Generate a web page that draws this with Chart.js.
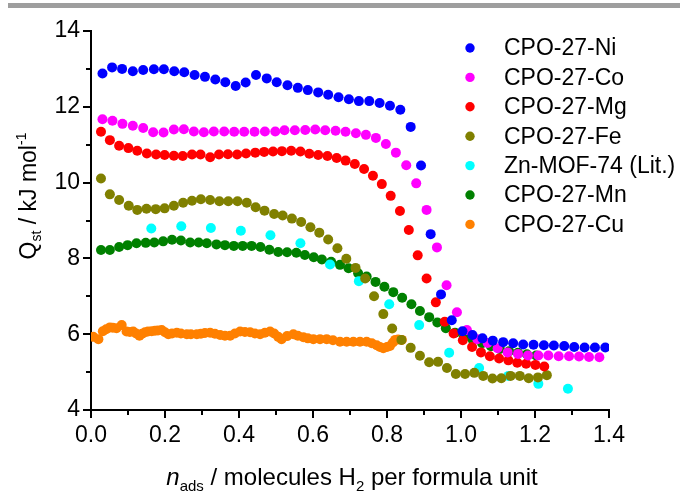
<!DOCTYPE html>
<html>
<head>
<meta charset="utf-8">
<script src="https://cdn.jsdelivr.net/npm/chart.js@4.4.1/dist/chart.umd.min.js"></script>
<style>
  body { margin: 0; background: #fff; }
  canvas { display: block; }
</style>
</head>
<body>
<canvas id="myChart" width="680" height="491"></canvas>
<script>
// series names and colours, in legend order
const seriesNames = ["CPO-27-Ni", "CPO-27-Co", "CPO-27-Mg", "CPO-27-Fe", "Zn-MOF-74 (Lit.)", "CPO-27-Mn", "CPO-27-Cu"]
const seriesColors = ["#0000ff", "#ff00ff", "#ff0000", "#808000", "#00ffff", "#008000", "#ff8000"]

// values (x = n_ads, y = Qst)
const niX = [0.031,0.057,0.084,0.113,0.141,0.170,0.197,0.225,0.252,0.280,0.308,0.336,0.363,0.391,0.418,0.446,0.475,0.502,0.531,0.559,0.586,0.614,0.641,0.669,0.697,0.724,0.752,0.780,0.808,0.836,0.864,0.892,0.918,0.946,0.975,1.004,1.031,1.058,1.086,1.114,1.141,1.168,1.196,1.224,1.251,1.279,1.306,1.334,1.362,1.390]
const niY = [12.88,13.04,13.00,12.94,12.97,12.99,12.99,12.94,12.91,12.84,12.79,12.72,12.65,12.55,12.64,12.84,12.75,12.65,12.57,12.50,12.44,12.38,12.32,12.25,12.20,12.15,12.15,12.10,12.03,11.92,11.47,10.45,8.64,7.05,6.37,6.08,5.98,5.89,5.83,5.79,5.76,5.73,5.72,5.71,5.70,5.69,5.66,5.65,5.65,5.65]

const coX = [0.031,0.058,0.085,0.113,0.141,0.168,0.196,0.224,0.251,0.278,0.305,0.332,0.360,0.387,0.414,0.442,0.470,0.498,0.523,0.551,0.579,0.606,0.633,0.661,0.688,0.716,0.743,0.770,0.797,0.824,0.852,0.879,0.907,0.935,0.961,0.989,1.016,1.044,1.072,1.099,1.126,1.154,1.181,1.209,1.236,1.264,1.292,1.319,1.346,1.374]
const coY = [11.67,11.63,11.55,11.50,11.44,11.33,11.32,11.40,11.41,11.35,11.33,11.35,11.35,11.34,11.34,11.34,11.35,11.35,11.38,11.38,11.39,11.40,11.38,11.37,11.34,11.30,11.26,11.18,11.02,10.79,10.46,9.98,9.28,8.29,7.29,6.58,6.11,5.87,5.77,5.63,5.52,5.48,5.44,5.44,5.44,5.42,5.42,5.41,5.40,5.39]

const mgX = [0.027,0.051,0.076,0.101,0.125,0.151,0.176,0.199,0.224,0.248,0.273,0.296,0.322,0.346,0.370,0.395,0.419,0.444,0.468,0.492,0.516,0.541,0.566,0.590,0.614,0.639,0.664,0.688,0.713,0.738,0.762,0.786,0.810,0.835,0.859,0.883,0.907,0.932,0.956,0.980,1.005,1.030,1.054,1.078,1.103,1.128,1.152,1.176,1.201,1.225]
const mgY = [11.34,11.12,10.97,10.91,10.84,10.77,10.74,10.73,10.71,10.70,10.74,10.74,10.67,10.74,10.75,10.74,10.77,10.79,10.81,10.82,10.83,10.84,10.82,10.76,10.73,10.70,10.65,10.58,10.49,10.36,10.18,9.96,9.65,9.25,8.75,8.08,7.47,6.84,6.33,6.02,5.84,5.66,5.52,5.42,5.36,5.31,5.25,5.22,5.19,5.15]

const feX = [0.027,0.051,0.076,0.102,0.125,0.150,0.175,0.199,0.224,0.249,0.273,0.297,0.322,0.347,0.371,0.396,0.421,0.445,0.469,0.495,0.518,0.543,0.568,0.593,0.617,0.641,0.666,0.690,0.715,0.741,0.765,0.790,0.814,0.839,0.864,0.889,0.914,0.938,0.962,0.986,1.011,1.036,1.060,1.085,1.109,1.134,1.159,1.183,1.208,1.232]
const feY = [10.11,9.69,9.54,9.39,9.28,9.31,9.30,9.32,9.39,9.47,9.52,9.56,9.54,9.51,9.51,9.51,9.47,9.35,9.26,9.17,9.13,9.05,8.96,8.82,8.68,8.50,8.27,7.99,7.75,7.47,7.00,6.53,6.15,5.85,5.64,5.43,5.26,5.27,5.11,4.95,4.95,4.98,4.90,4.83,4.84,4.90,4.90,4.84,4.86,4.92]

const znX = [0.163,0.244,0.324,0.405,0.485,0.566,0.646,0.724,0.806,0.887,0.968,1.049,1.128,1.209,1.289]
const znY = [8.79,8.85,8.80,8.73,8.61,8.40,7.84,7.40,6.79,6.24,5.51,5.11,4.90,4.69,4.56]

const mnX = [0.027,0.051,0.076,0.099,0.123,0.148,0.171,0.195,0.219,0.243,0.268,0.291,0.313,0.339,0.362,0.386,0.410,0.434,0.458,0.482,0.506,0.530,0.555,0.578,0.602,0.624,0.649,0.673,0.696,0.722,0.745,0.769,0.793,0.817,0.841,0.866,0.889,0.914,0.936,0.959,0.984,1.008,1.032,1.057,1.081,1.105,1.130,1.154,1.178,1.203]
const mnY = [8.22,8.22,8.30,8.35,8.40,8.41,8.42,8.45,8.49,8.47,8.42,8.42,8.40,8.37,8.35,8.33,8.33,8.33,8.30,8.23,8.17,8.16,8.15,8.09,8.03,7.97,7.91,7.83,7.74,7.61,7.52,7.38,7.25,7.11,6.96,6.79,6.61,6.45,6.31,6.16,6.04,5.93,5.85,5.76,5.68,5.61,5.55,5.51,5.47,5.44]

const cuX = [0.006,0.020,0.032,0.041,0.051,0.059,0.069,0.083,0.096,0.105,0.114,0.122,0.131,0.138,0.146,0.154,0.164,0.173,0.181,0.191,0.200,0.209,0.219,0.232,0.243,0.259,0.270,0.286,0.297,0.308,0.322,0.335,0.349,0.362,0.376,0.389,0.403,0.416,0.430,0.443,0.457,0.470,0.484,0.495,0.506,0.515,0.530,0.547,0.559,0.574,0.586,0.601,0.619,0.637,0.654,0.673,0.691,0.709,0.727,0.745,0.759,0.772,0.781,0.790,0.800,0.808,0.816,0.822,0.830,0.840]
const cuY = [5.93,5.87,6.08,6.13,6.18,6.17,6.16,6.24,6.07,6.06,6.07,6.02,5.96,6.01,6.05,6.07,6.08,6.09,6.10,6.11,6.05,6.00,6.02,6.04,6.02,6.00,6.00,6.00,6.01,6.03,6.04,6.01,5.98,5.96,5.96,6.02,6.07,6.06,6.05,6.02,6.00,6.04,6.07,6.02,5.93,5.87,5.95,6.00,5.96,5.92,5.89,5.87,5.87,5.87,5.84,5.80,5.80,5.80,5.80,5.80,5.76,5.71,5.66,5.63,5.66,5.69,5.78,5.85,5.86,5.85]

const seriesX = [niX, coX, mgX, feX, znX, mnX, cuX]
const seriesY = [niY, coY, mgY, feY, znY, mnY, cuY]

// axis ticks
const xTicks = [0.0, 0.2, 0.4, 0.6, 0.8, 1.0, 1.2, 1.4]
const xMinorTicks = [0.1, 0.3, 0.5, 0.7, 0.9, 1.1, 1.3]
const yTicks = [4, 6, 8, 10, 12, 14]
const yMinorTicks = [5, 7, 9, 11, 13]

const FONT = "'Liberation Sans', Arial, Helvetica, sans-serif"

const datasets = seriesNames.map((name, i) => ({
    label: name,
    data: seriesX[i].map((x, j) => ({ x: x, y: seriesY[i][j] })),
    backgroundColor: seriesColors[i],
    borderColor: seriesColors[i],
    pointRadius: 5,
    pointBorderWidth: 0,
    pointHoverRadius: 5
}))

// gray rule across the top of the figure
const topBar = {
    id: 'topBar',
    beforeDraw(chart) {
        const ctx = chart.ctx
        ctx.save()
        ctx.fillStyle = '#9e9e9e'
        ctx.fillRect(8, 3, 672, 5)
        ctx.restore()
    }
}

// major and minor tick marks, pointing outward
const tickMarks = {
    id: 'tickMarks',
    afterDraw(chart) {
        const ctx = chart.ctx
        const xs = chart.scales.x
        const ys = chart.scales.y
        const area = chart.chartArea
        ctx.save()
        ctx.strokeStyle = '#000'
        ctx.lineWidth = 2
        ctx.beginPath()
        xTicks.forEach(v => {
            const p = Math.round(xs.getPixelForValue(v))
            ctx.moveTo(p, area.bottom); ctx.lineTo(p, area.bottom + 8)
        })
        xMinorTicks.forEach(v => {
            const p = Math.round(xs.getPixelForValue(v))
            ctx.moveTo(p, area.bottom); ctx.lineTo(p, area.bottom + 5)
        })
        yTicks.forEach(v => {
            const p = Math.round(ys.getPixelForValue(v))
            ctx.moveTo(area.left, p); ctx.lineTo(area.left - 8, p)
        })
        yMinorTicks.forEach(v => {
            const p = Math.round(ys.getPixelForValue(v))
            ctx.moveTo(area.left, p); ctx.lineTo(area.left - 5, p)
        })
        ctx.stroke()
        ctx.restore()
    }
}

function drawRich(ctx, parts, x, y) {
    // parts: [text, size, dy, italic]
    let total = 0
    parts.forEach(p => {
        ctx.font = (p[3] ? 'italic ' : '') + p[1] + 'px ' + FONT
        total += ctx.measureText(p[0]).width
    })
    let cx = x - total / 2
    parts.forEach(p => {
        ctx.font = (p[3] ? 'italic ' : '') + p[1] + 'px ' + FONT
        ctx.fillText(p[0], cx, y + p[2])
        cx += ctx.measureText(p[0]).width
    })
}

// axis titles with sub/superscripts and the legend
const labels = {
    id: 'labels',
    afterDraw(chart) {
        const ctx = chart.ctx
        ctx.save()
        ctx.fillStyle = '#000'
        ctx.textBaseline = 'alphabetic'
        ctx.textAlign = 'left'
        drawRich(ctx, [['n', 24, 0, true], ['ads', 15, 6, false], [' / molecules H', 24, 0, false], ['2', 15, 6, false], [' per formula unit', 24, 0, false]], 352, 485)

        ctx.translate(36, 196)
        ctx.rotate(-Math.PI / 2)
        drawRich(ctx, [['Q', 23, 0, false], ['st', 14, 5, false], [' / kJ mol', 23, 0, false], ['-1', 14, -10, false]], 0, 0)
        ctx.restore()

        ctx.save()
        ctx.font = '23px ' + FONT
        ctx.textBaseline = 'middle'
        chart.data.datasets.forEach((ds, i) => {
            const yy = 48 + i * 29.4
            ctx.fillStyle = ds.backgroundColor
            ctx.beginPath()
            ctx.arc(470, yy, 4.7, 0, Math.PI * 2)
            ctx.fill()
            ctx.fillStyle = '#000'
            ctx.fillText(ds.label, 504, yy + 1)
        })
        ctx.restore()
    }
}

const ctx = document.getElementById('myChart').getContext('2d')
const myChart = new Chart(ctx, {
    type: 'scatter',
    data: { datasets: datasets },
    options: {
        responsive: false,
        animation: false,
        layout: { padding: { top: 31, right: 71, left: 0, bottom: 0 } },
        plugins: {
            legend: { display: false },
            tooltip: { enabled: false }
        },
        scales: {
            x: {
                min: 0,
                max: 1.4,
                afterFit: (scale) => { scale.height = 81 },
                afterBuildTicks: (scale) => { scale.ticks = xTicks.map(v => ({ value: v })) },
                grid: { display: false, drawTicks: false },
                border: { display: true, color: '#000', width: 2 },
                ticks: {
                    padding: 12,
                    color: '#000',
                    font: { family: FONT, size: 23 },
                    callback: (v) => Number(v).toFixed(1)
                }
            },
            y: {
                min: 4,
                max: 14,
                afterFit: (scale) => { scale.width = 91 },
                afterBuildTicks: (scale) => { scale.ticks = yTicks.map(v => ({ value: v })) },
                grid: { display: false, drawTicks: false },
                border: { display: true, color: '#000', width: 2 },
                ticks: {
                    padding: 11,
                    color: '#000',
                    font: { family: FONT, size: 23 },
                    callback: (v) => String(v)
                }
            }
        }
    },
    plugins: [topBar, tickMarks, labels]
})
</script>
</body>
</html>
